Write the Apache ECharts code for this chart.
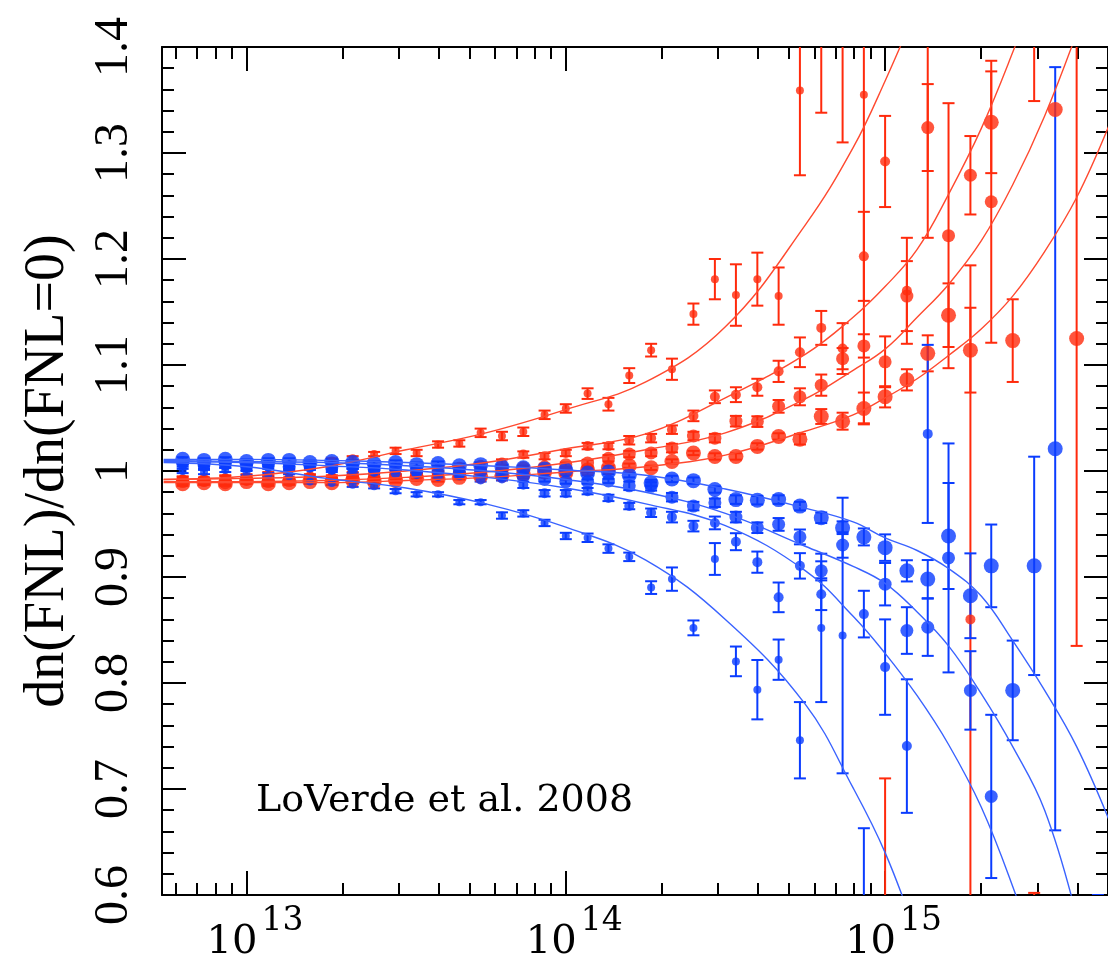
<!DOCTYPE html>
<html><head><meta charset="utf-8">
<script src="https://cdn.jsdelivr.net/npm/echarts@6/dist/echarts.min.js"></script>
<style>html,body{margin:0;padding:0;background:#fff}#c{width:1108px;height:963px}</style>
</head><body><div id="c"></div>
<script>
// halo mass bins (Msun/h)
const massBins = [6.31e12,7.36e12,8.58e12,1.00e13,1.17e13,1.36e13,1.58e13,1.85e13,2.15e13,2.51e13,
  2.93e13,3.41e13,3.98e13,4.64e13,5.41e13,6.31e13,7.36e13,8.58e13,1.00e14,1.17e14,
  1.36e14,1.58e14,1.85e14,2.15e14,2.51e14,2.93e14,3.41e14,3.98e14,4.64e14,5.41e14,
  6.31e14,7.36e14,8.58e14,1.00e15,1.17e15,1.36e15,1.58e15,1.85e15,2.15e15,2.51e15,
  2.93e15,3.41e15,3.98e15,4.64e15];

// positive fNL (red), marker size increasing R1 -> R4
const r1 = [0.993,0.992,0.994,0.995,0.997,0.999,1.004,1.010,1.012,1.016,
  1.019,1.017,1.025,1.026,1.036,1.033,1.037,1.053,1.059,1.073,
  1.063,1.090,1.114,1.096,1.148,1.181,1.166,1.181,1.165,1.359,
  1.47,1.50,1.355,0.35];
const r1Err = [0.002,0.002,0.002,0.002,0.002,0.002,0.002,0.002,0.002,0.002,
  0.003,0.003,0.003,0.003,0.004,0.004,0.004,0.004,0.004,0.005,
  0.006,0.007,0.006,0.010,0.010,0.019,0.029,0.025,0.027,0.08,
  0.132,0.19,0.31,0.36];
const r2 = [0.992,0.990,0.993,0.991,0.994,0.992,0.995,0.994,0.997,0.996,
  0.999,1.000,1.002,1.004,1.006,1.008,1.0155,1.014,1.017,1.0235,
  1.0235,1.029,1.031,1.039,1.052,1.070,1.072,1.079,1.094,1.112,
  1.135,1.1155,1.2025,1.292,1.170,1.50,null,0.860,null,null,
  0.35];
const r2Err = [0.002,0.002,0.002,0.002,0.002,0.002,0.002,0.002,0.002,0.002,
  0.002,0.002,0.002,0.002,0.002,0.003,0.003,0.003,0.003,0.003,
  0.003,0.004,0.004,0.004,0.005,0.006,0.007,0.008,0.010,0.014,
  0.016,0.024,0.042,0.043,0.05,0.28,null,0.334,null,null,
  0.252];
const r3 = [0.990,0.991,0.989,0.992,0.990,0.991,0.993,0.992,0.994,0.993,
  0.995,0.996,0.998,0.997,1.000,1.001,1.003,1.004,1.006,1.0075,
  1.012,1.016,1.017,1.0216,1.033,1.031,1.047,1.0466,1.061,1.070,
  1.081,1.106,1.118,1.103,1.165,1.324,1.222,1.279,1.254,null,
  1.50];
const r3Err = [0.002,0.002,0.002,0.002,0.002,0.002,0.002,0.002,0.002,0.002,
  0.002,0.002,0.002,0.002,0.002,0.002,0.002,0.002,0.002,0.003,
  0.003,0.003,0.003,0.004,0.004,0.004,0.005,0.005,0.006,0.008,
  0.010,0.010,0.011,0.024,0.033,0.041,0.125,0.037,0.133,null,
  0.151];
const r4 = [0.988,0.989,0.988,0.990,0.988,0.989,0.990,0.989,0.991,0.990,
  0.991,0.993,0.992,0.994,0.995,0.996,0.997,0.999,0.998,1.001,
  1.003,1.005,1.003,1.009,1.017,1.0137,1.0137,1.0232,1.0326,1.030,
  1.0514,1.047,1.059,1.070,1.086,1.111,1.147,1.114,1.329,1.123,
  null,1.341,1.125];
const r4Err = [0.002,0.002,0.002,0.002,0.002,0.002,0.002,0.002,0.002,0.002,
  0.002,0.002,0.002,0.002,0.002,0.002,0.002,0.002,0.002,0.002,
  0.002,0.002,0.002,0.002,0.002,0.003,0.003,0.003,0.003,0.005,
  0.007,0.008,0.015,0.010,0.010,0.017,0.030,0.040,0.048,0.039,
  null,0,0.29];

// negative fNL (blue)
const b1 = [1.000,0.999,1.001,0.998,0.996,0.995,0.990,0.9887,0.987,0.9856,
  0.981,0.978,0.978,0.9706,0.9706,0.958,0.960,0.951,0.9387,0.937,
  0.9268,0.919,0.890,0.898,0.852,0.917,0.8204,0.7937,0.822,0.746,
  0.852,0.8448,0.45];
const b1Err = [0.002,0.002,0.002,0.002,0.002,0.002,0.002,0.002,0.002,0.002,
  0.002,0.002,0.002,0.002,0.002,0.003,0.003,0.003,0.003,0.004,
  0.004,0.004,0.006,0.011,0.007,0.015,0.014,0.028,0.019,0.036,
  0.07,0.13,0.213];
const b2 = [1.006,1.004,1.005,1.003,1.004,1.002,1.003,1.001,1.000,0.999,
  0.998,0.997,0.995,0.996,0.992,0.993,0.987,0.979,0.979,0.981,
  0.9746,0.9669,0.9606,0.9565,0.948,0.951,0.9333,0.914,0.8808,0.9105,
  0.8838,null,0.865,0.815,0.7405,1.035];
const b2Err = [0.002,0.002,0.002,0.002,0.002,0.002,0.002,0.002,0.002,0.002,
  0.002,0.002,0.002,0.002,0.002,0.002,0.003,0.003,0.003,0.003,
  0.003,0.003,0.004,0.005,0.005,0.006,0.008,0.010,0.014,0.012,
  0.015,null,0.022,0.045,0.063,0.084];
const b3 = [1.008,1.006,1.007,1.005,1.006,1.004,1.005,1.003,1.004,1.002,
  1.003,1.000,1.001,0.998,0.999,0.996,0.995,0.992,0.990,0.990,
  0.9906,0.986,0.9855,0.9753,0.9669,0.970,0.9565,0.9465,0.9496,0.9378,
  0.9058,0.9302,null,0.8932,0.8495,0.8526,0.918,0.793,0.693,null,
  null,null,null,0.35];
const b3Err = [0.002,0.002,0.002,0.002,0.002,0.002,0.002,0.002,0.002,0.002,
  0.002,0.002,0.002,0.002,0.002,0.002,0.002,0.002,0.002,0.002,
  0.002,0.004,0.004,0.004,0.004,0.004,0.005,0.005,0.006,0.007,
  0.009,0.012,null,0.020,0.022,0.027,0.108,0.037,0.077,null,
  null,null,null,0.25];
const b4 = [1.011,1.010,1.011,1.009,1.010,1.010,1.008,1.009,1.008,1.007,
  1.008,1.006,1.007,1.005,1.006,1.004,1.003,1.002,1.001,0.998,
  0.999,0.996,0.9887,0.9925,0.9909,0.9825,0.973,0.9725,0.973,0.9669,
  0.9559,0.9465,0.9378,0.9277,0.9058,0.898,0.9387,0.8823,0.9105,0.793,
  0.9105,1.021];
const b4Err = [0.002,0.002,0.002,0.002,0.002,0.002,0.002,0.002,0.002,0.002,
  0.002,0.002,0.002,0.002,0.002,0.002,0.002,0.002,0.002,0.002,
  0.002,0.002,0.003,0.003,0.003,0.003,0.004,0.004,0.004,0.004,
  0.005,0.006,0.008,0.0125,0.010,0.018,0.050,0.040,0.039,0.047,
  0.103,0.36];

// theory curves sampled at these masses
const curveMass = [5.5e12,1.0e13,1.78e13,3.16e13,5.62e13,1.0e14,1.78e14,3.16e14,5.62e14,7.94e14,
  1.0e15,1.26e15,1.58e15,2.0e15,2.51e15,3.16e15,3.98e15,5.01e15];
const r1Curve = [0.992,0.995,1.004,1.020,1.036,1.058,1.084,1.136,1.232,1.305,1.368,1.438];
const r2Curve = [0.992,0.993,0.995,1.000,1.008,1.021,1.035,1.069,1.110,1.145,1.174,1.209,1.261,1.323,1.395,1.475];
const r3Curve = [0.990,0.990,0.991,0.994,0.999,1.0075,1.020,1.036,1.068,1.095,1.115,1.145,1.176,1.217,1.27,1.335,1.413,1.50];
const r4Curve = [0.989,0.989,0.989,0.991,0.994,0.999,1.004,1.015,1.0375,1.053,1.069,1.087,1.109,1.134,1.165,1.207,1.258,1.325];
const b1Curve = [1.008,1.004,0.993,0.984,0.969,0.947,0.916,0.860,0.780,0.701,0.640,0.56];
const b2Curve = [1.009,1.008,1.005,1.001,0.994,0.984,0.969,0.9485,0.906,0.863,0.828,0.788,0.742,0.683,0.608,0.52];
const b3Curve = [1.010,1.009,1.008,1.005,1.000,0.992,0.980,0.960,0.929,0.910,0.894,0.867,0.835,0.79,0.74,0.68,0.58];
const b4Curve = [1.011,1.011,1.010,1.008,1.005,1.001,0.996,0.983,0.965,0.952,0.937,0.925,0.908,0.882,0.84,0.793,0.74,0.672];

// axis ticks
const majorTicks = [1e13,1e14,1e15];
const minorTicks = [6e12,7e12,8e12,9e12,2e13,3e13,4e13,5e13,6e13,7e13,8e13,9e13,
  2e14,3e14,4e14,5e14,6e14,7e14,8e14,9e14,2e15,3e15,4e15];
const yTicks = {min:0.6, max:1.4, step:0.1};
const xRange = {min:5.436e12, max:4.99e15};

const RED = '#ff2a0c', BLUE = '#0a3cff';
const RED_LINE = '#ff4a30', BLUE_LINE = '#3a63ff';
const FONT = 'Liberation Serif';
const FONT2 = 'DejaVu Serif';

function pts(vals){ const out=[]; vals.forEach((v,i)=>{ if(v!==null && v!==undefined) out.push([massBins[i], v]); }); return out; }
function errs(vals, e){ const out=[]; vals.forEach((v,i)=>{ if(v!==null && v!==undefined && e[i]) out.push([massBins[i], v, e[i]]); }); return out; }
function curve(vals){ return vals.map((v,i)=>[curveMass[i], v]); }

function errRender(color){
  return function(params, api){
    const x = api.value(0), v = api.value(1), e = api.value(2);
    const top = api.coord([x, v+e]);
    const bot = api.coord([x, v-e]);
    const hw = 6;
    const st = {stroke:color, lineWidth:2};
    return {type:'group', children:[
      {type:'line', shape:{x1:top[0],y1:top[1],x2:bot[0],y2:bot[1]}, style:st},
      {type:'line', shape:{x1:top[0]-hw,y1:top[1],x2:top[0]+hw,y2:top[1]}, style:st},
      {type:'line', shape:{x1:bot[0]-hw,y1:bot[1],x2:bot[0]+hw,y2:bot[1]}, style:st}
    ]};
  };
}

const groups = [
  {vals:r1, err:r1Err, cur:r1Curve, color:RED, lc:RED_LINE, size:8},
  {vals:r2, err:r2Err, cur:r2Curve, color:RED, lc:RED_LINE, size:10},
  {vals:r3, err:r3Err, cur:r3Curve, color:RED, lc:RED_LINE, size:13},
  {vals:r4, err:r4Err, cur:r4Curve, color:RED, lc:RED_LINE, size:15},
  {vals:b1, err:b1Err, cur:b1Curve, color:BLUE, lc:BLUE_LINE, size:8},
  {vals:b2, err:b2Err, cur:b2Curve, color:BLUE, lc:BLUE_LINE, size:10},
  {vals:b3, err:b3Err, cur:b3Curve, color:BLUE, lc:BLUE_LINE, size:13},
  {vals:b4, err:b4Err, cur:b4Curve, color:BLUE, lc:BLUE_LINE, size:15}
];

const series = [];
[[0,1,2,3],[4,5,6,7]].forEach(set=>{
  set.forEach(i=>{ const g=groups[i];
    series.push({type:'line', data:curve(g.cur), smooth:0.4, showSymbol:false, symbol:'none',
      lineStyle:{color:g.lc, width:1.4}, clip:true, silent:true});
  });
  set.forEach(i=>{ const g=groups[i];
    series.push({type:'custom', data:errs(g.vals,g.err), renderItem:errRender(g.color), clip:true,
      encode:{x:0,y:1}, silent:true});
  });
  set.forEach(i=>{ const g=groups[i];
    series.push({type:'scatter', data:pts(g.vals), symbol:'circle', symbolSize:g.size,
      itemStyle:{color:g.color}, clip:true, silent:true});
  });
});

const axisLineStyle = {color:'#000', width:2};
function xAxisDef(pos, ticks, len, label, withLine){
  return {type:'log', logBase:10, min:xRange.min, max:xRange.max, position:pos,
    axisLine:{show:withLine, onZero:false, lineStyle:axisLineStyle},
    axisTick:{show:len>0, inside:true, length:len, customValues:ticks, lineStyle:{color:'#000', width:2}},
    splitLine:{show:false}, minorTick:{show:false}, minorSplitLine:{show:false},
    axisLabel: label ? Object.assign({show:true, customValues:ticks, color:'#000', fontFamily:FONT2}, label) : {show:false}
  };
}
function yAxisDef(pos, withLabel){
  return {type:'value', min:yTicks.min, max:yTicks.max, interval:yTicks.step, position:pos,
    axisLine:{show:true, onZero:false, lineStyle:axisLineStyle},
    axisTick:{show:true, inside:true, length:24, lineStyle:{color:'#000', width:2}},
    minorTick:{show:true, splitNumber:5, length:12, lineStyle:{color:'#000', width:2}},
    splitLine:{show:false}, minorSplitLine:{show:false},
    axisLabel: withLabel ? {show:true, rotate:90, margin:24, fontSize:48, fontFamily:FONT, color:'#000'} : {show:false},
    name: withLabel ? 'dn(FNL)/dn(FNL=0)' : '', nameLocation:'middle', nameRotate:90, nameGap:86,
    nameTextStyle:{fontSize:56, fontFamily:FONT, color:'#000'}
  };
}

const option = {
  animation:false,
  backgroundColor:'#fff',
  grid:{left:162, top:47, width:948, height:853, containLabel:false},
  xAxis:[
    // bottom: major ticks + mantissa "10"
    xAxisDef('bottom', majorTicks, 24, {margin:28, fontSize:40, padding:[0,29,0,0],
      formatter:function(){ return '10'; }}, true),
    // bottom: exponent labels (superscripts)
    xAxisDef('bottom', majorTicks, 0, {margin:10, fontSize:33, padding:[0,0,0,72],
      formatter:function(v){ return String(Math.round(Math.log10(v))); }}, false),
    xAxisDef('bottom', minorTicks, 12, null, false),
    xAxisDef('top', majorTicks, 24, null, true),
    xAxisDef('top', minorTicks, 12, null, false)
  ],
  yAxis:[ yAxisDef('left', true), yAxisDef('right', false) ],
  graphic:[{type:'text', left:256, top:782,
    style:{text:'LoVerde et al. 2008', fontSize:38, fontFamily:FONT2, fill:'#000'}}],
  series: series
};

const chart = echarts.init(document.getElementById('c'), null, {renderer:'canvas'});
chart.setOption(option);
</script></body></html>
